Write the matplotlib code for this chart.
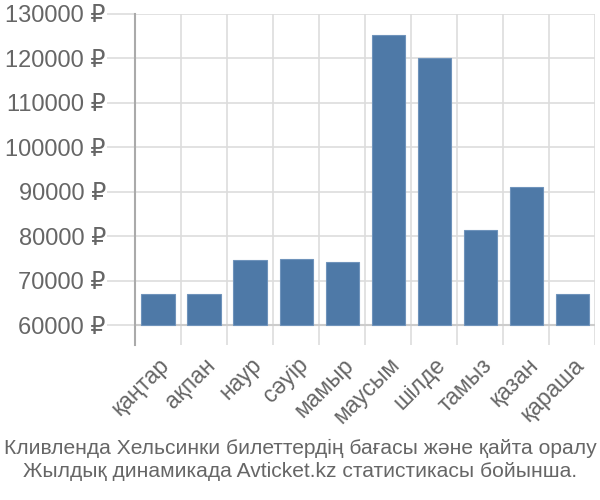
import matplotlib
matplotlib.use('Agg')
import matplotlib.pyplot as plt
import numpy as np

months = ['қаңтар', 'ақпан', 'наур', 'сәуір', 'мамыр', 'маусым', 'шілде', 'тамыз', 'қазан', 'қараша']
prices = [67000, 67000, 74700, 74900, 74200, 125200, 120000, 81300, 91000, 67000]
yticks = [60000, 70000, 80000, 90000, 100000, 110000, 120000, 130000]
ytick_labels = ['%d ₽' % v for v in yticks]
caption = 'Кливленда Хельсинки билеттердің бағасы және қайта оралу\nЖылдық динамикада Avticket.kz статистикасы бойынша.'

plt.rcParams['font.family'] = ['Liberation Sans', 'DejaVu Sans']
txt = '#666666'
grid = '#dddddd'

fig = plt.figure(figsize=(6, 5), dpi=100)
ax = fig.add_axes([0.225, 0.31, 0.767, 0.662])

x = np.arange(len(months))
base = 60000
heights = [p - base for p in prices]
ax.bar(x, heights, bottom=base, width=0.72, color='#4e79a7', edgecolor='#6f93bb', linewidth=0.8, zorder=3)

ax.set_xlim(-0.5, len(months) - 0.5)
ax.set_ylim(55500, 130000)
ax.set_yticks(yticks)
ax.set_yticklabels(ytick_labels, fontsize=17, color=txt)
ax.set_xticks(x)
ax.set_xticklabels(months, rotation=45, ha='right', rotation_mode='anchor', fontsize=16.5, color=txt)

# vertical grid lines between categories
for b in np.arange(-0.5, len(months), 1.0):
    ax.axvline(b, color=grid, lw=1.2, zorder=1)
ax.yaxis.grid(True, color=grid, lw=1.2, zorder=1)
ax.axhline(base, color='#cccccc', lw=1.5, zorder=2)

for s in ['top', 'right', 'bottom']:
    ax.spines[s].set_visible(False)
ax.spines['left'].set_color('#aaaaaa')
ax.spines['left'].set_linewidth(1.5)
ax.tick_params(axis='y', length=20, color=grid, width=1.2, pad=1)
ax.tick_params(axis='x', length=0, pad=6)

fig.text(0.5, 0.08, caption, ha='center', va='center', fontsize=15.1, color=txt, linespacing=1.25)

fig.savefig('out.png', dpi=100)
